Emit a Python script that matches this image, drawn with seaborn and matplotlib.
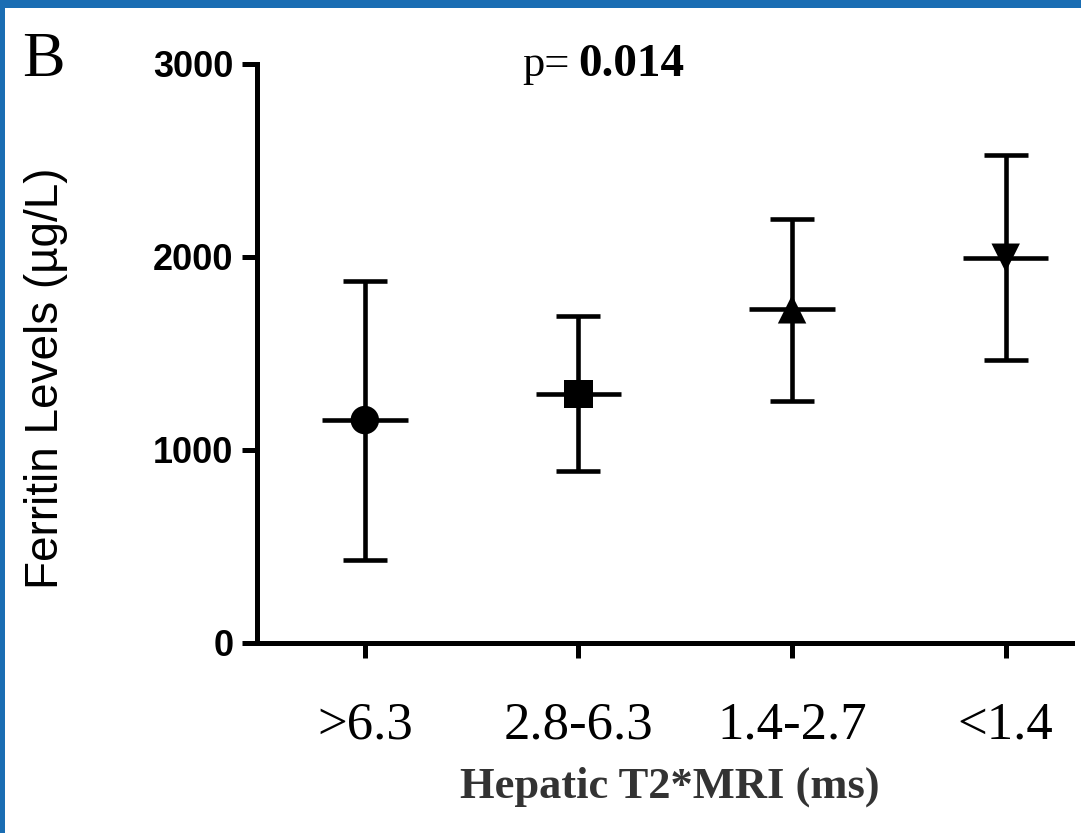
import numpy as np
import pandas as pd
import matplotlib
matplotlib.use("Agg")
import matplotlib.pyplot as plt
from matplotlib.patches import Rectangle
import seaborn as sns

# Ferritin by hepatic T2* MRI group (mean and interval ends)
groups = [">6.3", "2.8-6.3", "1.4-2.7", "<1.4"]
means = [1155, 1289, 1729, 1996]
lower = [430, 893, 1255, 1466]
upper = [1877, 1694, 2195, 2528]
markers = ["o", "s", "^", "v"]

df = pd.DataFrame({"group": groups, "mean": means, "low": lower, "high": upper})
df["pos"] = np.arange(len(df))

sns.set_style("ticks")
plt.rcParams["font.family"] = ["Liberation Sans", "DejaVu Sans"]
plt.rcParams.update({"text.color": "black", "axes.labelcolor": "black",
                     "xtick.color": "black", "ytick.color": "black",
                     "axes.edgecolor": "black"})

fig = plt.figure(figsize=(10.81, 8.33), dpi=100)
ax = fig.add_axes([0.2377, 0.2281, 0.7539, 0.6951])

lw = 3.3
# error bars with caps
ax.errorbar(df["pos"], df["mean"],
            yerr=[df["mean"] - df["low"], df["high"] - df["mean"]],
            fmt="none", ecolor="black", elinewidth=lw, capsize=16, capthick=lw, zorder=2)
# horizontal mean lines
ax.hlines(df["mean"], df["pos"] - 0.2, df["pos"] + 0.2, colors="black", linewidth=lw, zorder=2)
# group markers
sns.scatterplot(data=df, x="pos", y="mean", style="group", markers=dict(zip(groups, markers)),
                s=420, color="black", edgecolor="black", linewidth=0, legend=False, ax=ax, zorder=3)

ax.set_xlim(-0.505, 3.31)
ax.set_ylim(0, 3000)
ax.set_yticks([0, 1000, 2000, 3000])
ax.set_xticks(df["pos"])
ax.set_xticklabels(groups, fontfamily="Liberation Serif", fontsize=38)
for t in ax.get_yticklabels():
    t.set_fontsize(26)
    t.set_fontweight("bold")

sns.despine(ax=ax)
for s in ["left", "bottom"]:
    ax.spines[s].set_linewidth(3.6)
ax.tick_params(axis="both", width=3.6, length=11)
ax.tick_params(axis="x", pad=31)
ax.tick_params(axis="y", pad=6)

ax.set_ylabel("Ferritin Levels (µg/L)", fontsize=33)
ax.yaxis.set_label_coords(-0.232, 0.458)
ax.set_xlabel("Hepatic T2*MRI (ms)", fontfamily="Liberation Serif", fontweight="bold",
              fontsize=32, color="#333333")
ax.xaxis.set_label_coords(0.507, -0.213)

fig.text(570 / 1081, 1 - 76 / 833, "p=", ha="right", va="baseline",
         fontfamily="Liberation Serif", fontsize=32)
fig.text(578 / 1081, 1 - 76 / 833, "0.014", ha="left", va="baseline",
         fontfamily="Liberation Serif", fontweight="bold", fontsize=34)
fig.text(22 / 1081, 1 - 76 / 833, "B", ha="left", va="baseline",
         fontfamily="Liberation Serif", fontsize=46)

# blue frame of the screenshot
fig.patches.append(Rectangle((0, 1 - 8 / 833), 1, 8 / 833, transform=fig.transFigure,
                             facecolor="#1a6db3", edgecolor="none"))
fig.patches.append(Rectangle((0, 0), 5 / 1081, 1, transform=fig.transFigure,
                             facecolor="#1a6db3", edgecolor="none"))

fig.savefig("out.png", dpi=100)
